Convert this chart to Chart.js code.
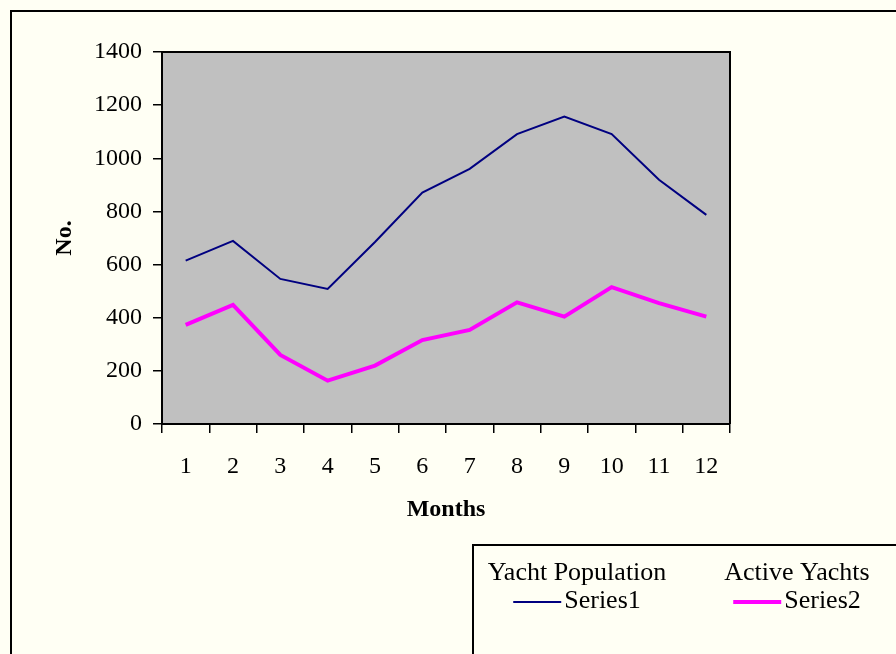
<!DOCTYPE html>
<html>
<head>
<meta charset="utf-8">
<title>Yacht Population</title>
<script src="https://cdn.jsdelivr.net/npm/chart.js@4/dist/chart.umd.min.js"></script>
<style>
    body { margin: 0; background: #fffff4; }
    #yacht-chart { display: block; }
</style>
</head>
<body>
<canvas id="yacht-chart" width="896" height="654"></canvas>
<script>
// Chart data
const months = ['1', '2', '3', '4', '5', '6', '7', '8', '9', '10', '11', '12'];
const yachtPopulation = [615, 689, 546, 508, 685, 871, 960, 1091, 1157, 1091, 919, 787];
const activeYachts = [373, 448, 260, 163, 220, 316, 354, 458, 404, 515, 455, 404];
const seriesNames = ['Series1', 'Series2'];
const legendHeaders = ['Yacht Population', 'Active Yachts'];

const serif = '"Liberation Serif", "Times New Roman", serif';

// Page background, outer frame, grey plot area
const backdrop = {
    id: 'backdrop',
    beforeDraw(chart) {
        const ctx = chart.ctx;
        const area = chart.chartArea;
        ctx.save();
        ctx.fillStyle = '#fffff4';
        ctx.fillRect(0, 0, chart.width, chart.height);
        ctx.strokeStyle = '#000';
        ctx.lineWidth = 2;
        ctx.strokeRect(11, 11, chart.width, chart.height);
        ctx.fillStyle = '#c0c0c0';
        ctx.fillRect(area.left, area.top, area.right - area.left, area.bottom - area.top);
        ctx.restore();
    },
    afterDraw(chart) {
        const ctx = chart.ctx;
        const area = chart.chartArea;
        ctx.save();
        ctx.strokeStyle = '#000';
        ctx.lineWidth = 2;
        ctx.beginPath();
        ctx.moveTo(area.left, area.top);
        ctx.lineTo(area.right, area.top);
        ctx.lineTo(area.right, area.bottom);
        ctx.stroke();
        ctx.restore();
    }
};

// Excel style legend box in the lower right corner
const boxLegend = {
    id: 'boxLegend',
    afterDraw(chart) {
        const ctx = chart.ctx;
        const columns = [577, 797];
        ctx.save();
        ctx.strokeStyle = '#000';
        ctx.lineWidth = 2;
        ctx.strokeRect(473, 545, 600, 300);
        ctx.font = '26px ' + serif;
        ctx.fillStyle = '#000';
        ctx.textBaseline = 'middle';
        chart.data.datasets.forEach(function(ds, i) {
            const cx = columns[i];
            ctx.textAlign = 'center';
            ctx.fillText(legendHeaders[i], cx, 573);
            const sample = 48;
            const textW = ctx.measureText(ds.label).width;
            const start = cx - (sample + 3 + textW) / 2;
            ctx.strokeStyle = ds.borderColor;
            ctx.lineWidth = ds.borderWidth;
            ctx.beginPath();
            ctx.moveTo(start, 602);
            ctx.lineTo(start + sample, 602);
            ctx.stroke();
            ctx.textAlign = 'left';
            ctx.fillText(ds.label, start + sample + 3, 601);
        });
        ctx.restore();
    }
};

new Chart(document.getElementById('yacht-chart').getContext('2d'), {
    type: 'line',
    data: {
        labels: months,
        datasets: [
            {
                label: seriesNames[0],
                data: yachtPopulation,
                borderColor: '#000080',
                borderWidth: 2,
                pointRadius: 0,
                tension: 0
            },
            {
                label: seriesNames[1],
                data: activeYachts,
                borderColor: '#ff00ff',
                borderWidth: 4,
                pointRadius: 0,
                tension: 0
            }
        ]
    },
    options: {
        responsive: false,
        animation: false,
        layout: {
            padding: { left: 0, top: 52, right: 166, bottom: 130 }
        },
        plugins: {
            legend: { display: false },
            tooltip: { enabled: false }
        },
        scales: {
            x: {
                offset: true,
                afterFit(scale) { scale.height = 100; },
                grid: {
                    offset: true,
                    drawOnChartArea: false,
                    drawTicks: true,
                    tickLength: 9,
                    color: '#000',
                    lineWidth: 1.5
                },
                border: { color: '#000', width: 2 },
                ticks: {
                    color: '#000',
                    padding: 19,
                    maxRotation: 0,
                    autoSkip: false,
                    font: { family: serif, size: 24 }
                },
                title: {
                    display: true,
                    text: 'Months',
                    color: '#000',
                    padding: { top: 0, bottom: 2 },
                    font: { family: serif, size: 24, weight: 'bold', lineHeight: 1 }
                }
            },
            y: {
                min: 0,
                max: 1400,
                afterFit(scale) { scale.width = 162; },
                grid: {
                    drawOnChartArea: false,
                    drawTicks: true,
                    tickLength: 9,
                    color: '#000',
                    lineWidth: 1.5
                },
                border: { color: '#000', width: 2 },
                ticks: {
                    stepSize: 200,
                    color: '#000',
                    padding: 11,
                    font: { family: serif, size: 24 },
                    callback: function(value) { return String(value); }
                },
                title: {
                    display: true,
                    text: 'No.',
                    color: '#000',
                    padding: { top: 53, bottom: 0 },
                    font: { family: serif, size: 24, weight: 'bold', lineHeight: 1 }
                }
            }
        }
    },
    plugins: [backdrop, boxLegend]
});
</script>
</body>
</html>
